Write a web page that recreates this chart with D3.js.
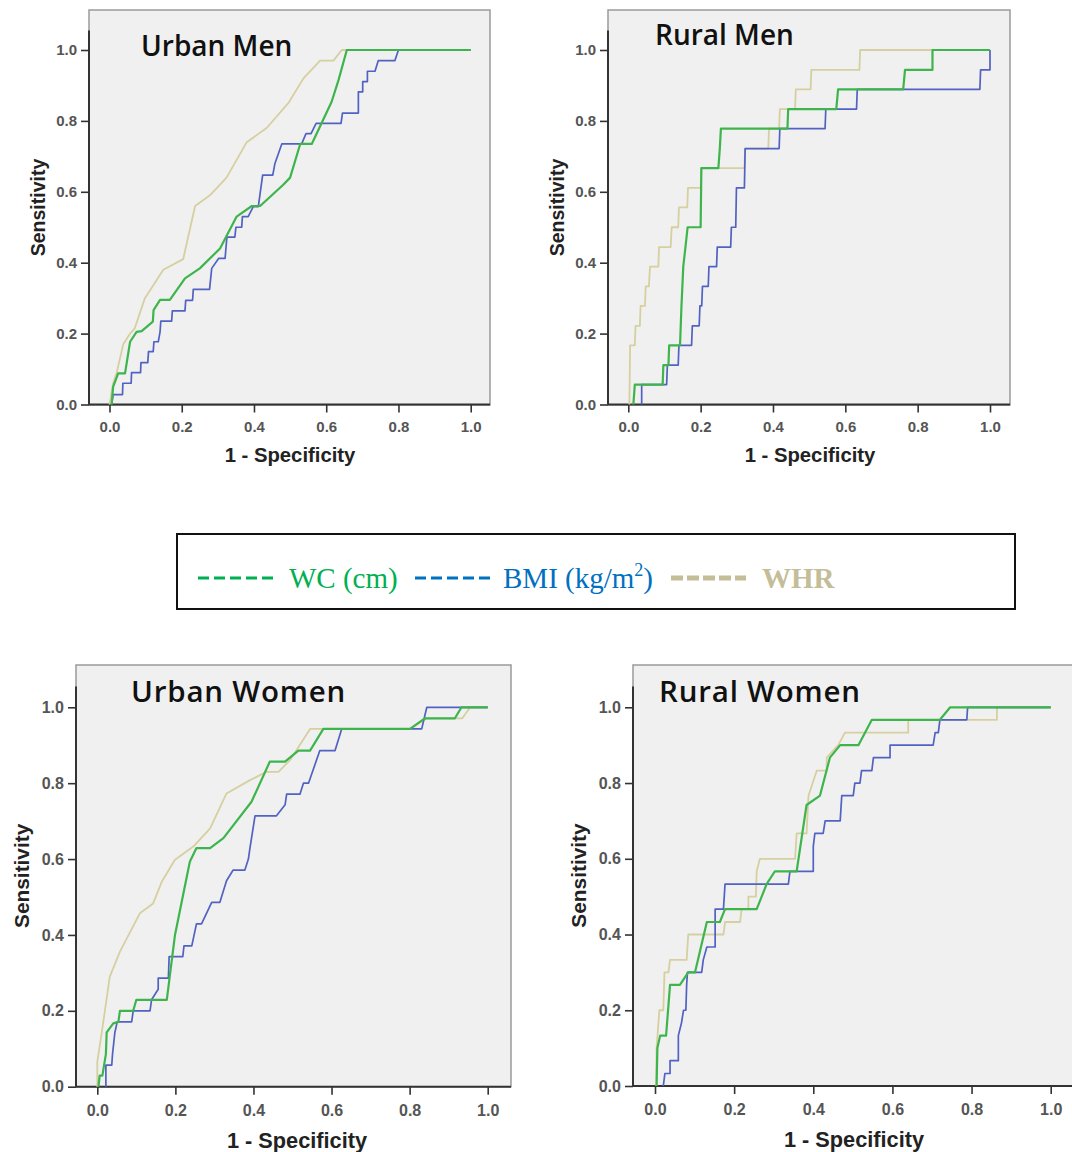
<!DOCTYPE html>
<html>
<head>
<meta charset="utf-8">
<script src="https://cdn.jsdelivr.net/npm/d3@7"></script>
<style>
  body { margin: 0; background: #fff; }
  svg { display: block; }
</style>
</head>
<body>
<div id="chart"></div>
<script>
// ROC curves, values: [1 - specificity, sensitivity]
const panelTitles = ["Urban Men", "Rural Men", "Urban Women", "Rural Women"];
const seriesNames = ["WC (cm)", "BMI (kg/m2)", "WHR"];
const tickValues = [0, 0.2, 0.4, 0.6, 0.8, 1.0];

const urbanMenWC = [[0.006,0],[0.01,0.05],[0.024,0.088],[0.043,0.088],[0.057,0.177],[0.075,0.205],[0.089,0.207],[0.12,0.234],[0.122,0.266],[0.14,0.295],[0.167,0.295],[0.209,0.356],[0.25,0.384],[0.306,0.44],[0.352,0.53],[0.394,0.56],[0.417,0.56],[0.481,0.62],[0.5,0.64],[0.528,0.735],[0.56,0.735],[0.615,0.854],[0.634,0.915],[0.657,1],[1,1]];
const urbanMenBMI = [[0.006,0],[0.01,0.028],[0.036,0.028],[0.037,0.06],[0.06,0.06],[0.061,0.09],[0.086,0.09],[0.087,0.118],[0.106,0.118],[0.108,0.149],[0.121,0.149],[0.123,0.177],[0.135,0.177],[0.14,0.205],[0.142,0.235],[0.172,0.235],[0.174,0.264],[0.209,0.264],[0.211,0.294],[0.23,0.294],[0.232,0.325],[0.277,0.325],[0.283,0.384],[0.302,0.412],[0.32,0.412],[0.325,0.472],[0.347,0.472],[0.35,0.5],[0.366,0.5],[0.368,0.53],[0.384,0.53],[0.398,0.558],[0.412,0.558],[0.424,0.647],[0.452,0.647],[0.458,0.68],[0.477,0.735],[0.532,0.735],[0.544,0.764],[0.558,0.764],[0.572,0.793],[0.641,0.793],[0.645,0.822],[0.689,0.822],[0.689,0.882],[0.701,0.882],[0.701,0.911],[0.714,0.911],[0.714,0.94],[0.735,0.94],[0.744,0.97],[0.79,0.97],[0.8,1],[1,1]];
const urbanMenWHR = [[0,0],[0.01,0.06],[0.02,0.09],[0.038,0.17],[0.057,0.2],[0.07,0.215],[0.098,0.3],[0.149,0.38],[0.204,0.41],[0.237,0.56],[0.278,0.59],[0.324,0.64],[0.38,0.74],[0.435,0.78],[0.495,0.85],[0.537,0.92],[0.583,0.97],[0.62,0.97],[0.643,1],[1,1]];

const ruralMenWC = [[0.014,0],[0.018,0.056],[0.095,0.056],[0.097,0.111],[0.111,0.111],[0.113,0.167],[0.143,0.167],[0.147,0.278],[0.152,0.389],[0.158,0.444],[0.164,0.5],[0.2,0.5],[0.202,0.667],[0.249,0.667],[0.253,0.722],[0.256,0.778],[0.44,0.778],[0.442,0.833],[0.575,0.833],[0.58,0.889],[0.76,0.889],[0.765,0.944],[0.841,0.944],[0.841,1],[1,1]];
const ruralMenBMI = [[0.037,0],[0.037,0.056],[0.106,0.056],[0.108,0.111],[0.138,0.111],[0.14,0.167],[0.175,0.167],[0.177,0.222],[0.196,0.222],[0.198,0.278],[0.203,0.278],[0.205,0.333],[0.221,0.333],[0.223,0.389],[0.244,0.389],[0.246,0.444],[0.283,0.444],[0.285,0.5],[0.297,0.5],[0.299,0.611],[0.321,0.611],[0.323,0.722],[0.417,0.722],[0.419,0.778],[0.544,0.778],[0.546,0.833],[0.631,0.833],[0.633,0.889],[0.972,0.889],[0.974,0.944],[1,0.944],[1,1]];
const ruralMenWHR = [[0.003,0],[0.005,0.167],[0.018,0.167],[0.02,0.222],[0.032,0.222],[0.034,0.278],[0.046,0.278],[0.048,0.333],[0.057,0.333],[0.06,0.389],[0.083,0.389],[0.085,0.444],[0.117,0.444],[0.12,0.5],[0.138,0.5],[0.14,0.556],[0.163,0.556],[0.165,0.611],[0.2,0.611],[0.202,0.667],[0.321,0.667],[0.323,0.722],[0.387,0.722],[0.389,0.778],[0.417,0.778],[0.419,0.833],[0.461,0.833],[0.463,0.889],[0.504,0.889],[0.506,0.944],[0.639,0.944],[0.641,1],[1,1]];

const urbanWomenWC = [[0.003,0],[0.006,0.029],[0.013,0.029],[0.022,0.086],[0.024,0.143],[0.041,0.167],[0.054,0.171],[0.058,0.2],[0.092,0.2],[0.1,0.229],[0.178,0.229],[0.199,0.4],[0.237,0.593],[0.254,0.629],[0.289,0.629],[0.323,0.655],[0.395,0.751],[0.442,0.857],[0.481,0.857],[0.515,0.886],[0.545,0.886],[0.579,0.943],[0.801,0.943],[0.839,0.971],[0.916,0.971],[0.933,1],[1,1]];
const urbanWomenBMI = [[0.022,0],[0.022,0.057],[0.037,0.057],[0.039,0.086],[0.045,0.143],[0.051,0.171],[0.088,0.171],[0.092,0.2],[0.135,0.2],[0.139,0.229],[0.156,0.257],[0.156,0.286],[0.182,0.286],[0.184,0.343],[0.219,0.343],[0.222,0.371],[0.242,0.371],[0.254,0.429],[0.267,0.429],[0.293,0.486],[0.314,0.486],[0.331,0.543],[0.348,0.571],[0.378,0.571],[0.387,0.6],[0.391,0.629],[0.404,0.714],[0.459,0.714],[0.481,0.743],[0.485,0.771],[0.519,0.771],[0.528,0.8],[0.541,0.8],[0.57,0.886],[0.609,0.886],[0.626,0.943],[0.831,0.943],[0.844,1],[1,1]];
const urbanWomenWHR = [[0,0],[0,0.066],[0.011,0.14],[0.032,0.29],[0.058,0.356],[0.109,0.457],[0.143,0.483],[0.165,0.54],[0.199,0.598],[0.246,0.633],[0.289,0.681],[0.331,0.773],[0.391,0.808],[0.434,0.83],[0.464,0.83],[0.494,0.861],[0.545,0.943],[0.801,0.943],[0.844,0.971],[0.935,0.971],[0.955,1],[1,1]];

const ruralWomenWC = [[0.004,0],[0.006,0.1],[0.013,0.133],[0.028,0.133],[0.038,0.267],[0.063,0.267],[0.084,0.3],[0.101,0.3],[0.131,0.433],[0.164,0.433],[0.177,0.467],[0.257,0.467],[0.282,0.533],[0.303,0.567],[0.358,0.567],[0.383,0.742],[0.417,0.767],[0.442,0.867],[0.468,0.9],[0.514,0.9],[0.548,0.967],[0.72,0.967],[0.746,1],[1,1]];
const ruralWomenBMI = [[0.021,0],[0.025,0.033],[0.038,0.033],[0.038,0.067],[0.059,0.067],[0.059,0.133],[0.067,0.167],[0.072,0.2],[0.078,0.2],[0.08,0.267],[0.082,0.3],[0.118,0.3],[0.122,0.333],[0.131,0.367],[0.152,0.367],[0.152,0.467],[0.173,0.467],[0.177,0.533],[0.337,0.533],[0.341,0.567],[0.4,0.567],[0.4,0.633],[0.404,0.667],[0.425,0.667],[0.43,0.7],[0.468,0.7],[0.472,0.767],[0.501,0.767],[0.505,0.8],[0.518,0.8],[0.522,0.833],[0.548,0.833],[0.552,0.867],[0.594,0.867],[0.594,0.9],[0.703,0.9],[0.708,0.933],[0.716,0.933],[0.72,0.967],[0.788,0.967],[0.79,1],[1,1]];
const ruralWomenWHR = [[0.003,0],[0.004,0.1],[0.011,0.2],[0.021,0.2],[0.024,0.3],[0.034,0.3],[0.038,0.333],[0.08,0.333],[0.084,0.4],[0.173,0.4],[0.177,0.433],[0.215,0.433],[0.219,0.467],[0.236,0.467],[0.236,0.5],[0.255,0.5],[0.257,0.567],[0.265,0.6],[0.354,0.6],[0.358,0.667],[0.383,0.667],[0.388,0.767],[0.409,0.833],[0.434,0.833],[0.434,0.867],[0.463,0.9],[0.48,0.933],[0.64,0.933],[0.64,0.967],[0.864,0.967],[0.864,1],[1,1]];

const panelData = [
    [urbanMenWC, urbanMenBMI, urbanMenWHR],
    [ruralMenWC, ruralMenBMI, ruralMenWHR],
    [urbanWomenWC, urbanWomenBMI, urbanWomenWHR],
    [ruralWomenWC, ruralWomenBMI, ruralWomenWHR]
];

// layout of the four panels (frame box, pixel range of 0..1, title spot, x-title centre, font scale)
const layout = [
    {frame: [89, 10, 490, 405], xr: [109.5, 470.7], yr: [404.5, 50], tx: 141, ty: 56, tfs: 28, tls: 0, cx: 290, fs: 1},
    {frame: [608, 10, 1010, 405], xr: [628.3, 990], yr: [404.5, 50], tx: 655, ty: 45, tfs: 28, tls: 0, cx: 810, fs: 1},
    {frame: [76, 665, 511, 1086.7], xr: [97.3, 487.7], yr: [1086.7, 707.3], tx: 131, ty: 702, tfs: 29.5, tls: 0.8, cx: 297, fs: 1.07},
    {frame: [633, 665, 1085, 1086], xr: [655, 1050.7], yr: [1086, 707.3], tx: 659, ty: 702, tfs: 29.5, tls: 0.8, cx: 854, fs: 1.07}
];

const lineColors = ["#3db54c", "#5262c2", "#d6cf9f"];
const lineWidths = [2.2, 1.7, 1.8];
const legendColors = ["#00b050", "#0070c0", "#c4bd97"];

const svg = d3.select("#chart").append("svg")
    .attr("width", 1072)
    .attr("height", 1152);

layout.forEach((p, i) => {
    const [fl, ft, fr, fb] = p.frame;
    const x = d3.scaleLinear().domain([0, 1]).range(p.xr);
    const y = d3.scaleLinear().domain([0, 1]).range(p.yr);
    const g = svg.append("g").attr("class", "panel");

    g.append("rect")
        .attr("x", fl).attr("y", ft)
        .attr("width", fr - fl).attr("height", fb - ft)
        .attr("fill", "#f0f0f0")
        .attr("stroke", "#9a9a9a")
        .attr("stroke-width", 1.5);

    const xAxis = d3.axisBottom(x)
        .tickValues(tickValues)
        .tickFormat(d3.format(".1f"))
        .tickSize(8)
        .tickPadding(9 * p.fs)
        .tickSizeOuter(0);
    const yAxis = d3.axisLeft(y)
        .tickValues(tickValues)
        .tickFormat(d3.format(".1f"))
        .tickSize(8)
        .tickPadding(4)
        .tickSizeOuter(0);

    const gx = g.append("g").attr("transform", `translate(0,${p.yr[0]})`).call(xAxis);
    const gy = g.append("g").attr("transform", `translate(${fl},0)`).call(yAxis);
    gy.selectAll(".domain").remove();
    gx.selectAll(".domain").remove();
    [gx, gy].forEach(ax => {
        ax.selectAll(".tick line").attr("stroke", "#333").attr("stroke-width", 1.6);
        ax.selectAll(".tick text")
            .attr("fill", "#555")
            .style("font-family", "Arial, 'Liberation Sans', sans-serif")
            .style("font-weight", "bold")
            .style("font-size", (15 * p.fs) + "px");
    });

    // axis lines: x across the whole frame, y up to just above 1.0
    g.append("line")
        .attr("x1", fl).attr("x2", fr)
        .attr("y1", p.yr[0]).attr("y2", p.yr[0])
        .attr("stroke", "#333").attr("stroke-width", 2);
    g.append("line")
        .attr("x1", fl).attr("x2", fl)
        .attr("y1", y(1.055)).attr("y2", p.yr[0])
        .attr("stroke", "#333").attr("stroke-width", 2);

    // curves: WHR under, then BMI, then WC
    const line = d3.line().x(d => x(d[0])).y(d => y(d[1]));
    [2, 1, 0].forEach(s => {
        g.append("path")
            .datum(panelData[i][s])
            .attr("fill", "none")
            .attr("stroke", lineColors[s])
            .attr("stroke-width", lineWidths[s])
            .attr("stroke-linejoin", "round")
            .attr("d", line);
    });

    g.append("text")
        .attr("x", p.tx).attr("y", p.ty)
        .style("font-family", "'Open Sans', sans-serif")
        .style("font-weight", 600)
        .style("font-size", p.tfs + "px")
        .style("letter-spacing", p.tls + "px")
        .attr("fill", "#111")
        .text(panelTitles[i]);

    g.append("text")
        .attr("transform", `translate(${fl - 44 * p.fs},${(ft + fb) / 2}) rotate(-90)`)
        .attr("text-anchor", "middle")
        .style("font-family", "Arial, 'Liberation Sans', sans-serif")
        .style("font-weight", "bold")
        .style("font-size", (19.5 * p.fs) + "px")
        .attr("fill", "#222")
        .text("Sensitivity");

    g.append("text")
        .attr("x", p.cx)
        .attr("y", p.yr[0] + 57 * p.fs)
        .attr("text-anchor", "middle")
        .style("font-family", "Arial, 'Liberation Sans', sans-serif")
        .style("font-weight", "bold")
        .style("font-size", (20.3 * p.fs) + "px")
        .attr("fill", "#222")
        .text("1 - Specificity");
});

// legend box
const legend = svg.append("g").attr("class", "legend");
legend.append("rect")
    .attr("x", 177).attr("y", 534)
    .attr("width", 838).attr("height", 75)
    .attr("fill", "#fff")
    .attr("stroke", "#111")
    .attr("stroke-width", 2);

const legendDashX = [198, 415, 671];
const legendTextX = [289, 503, 762];
seriesNames.forEach((name, s) => {
    legend.append("line")
        .attr("x1", legendDashX[s]).attr("x2", legendDashX[s] + 75)
        .attr("y1", 578).attr("y2", 578)
        .attr("stroke", legendColors[s])
        .attr("stroke-width", s === 2 ? 5 : 3)
        .attr("stroke-dasharray", s === 2 ? "12,4" : "11,5");
    const t = legend.append("text")
        .attr("x", legendTextX[s]).attr("y", 588)
        .style("font-family", "'Liberation Serif', 'Times New Roman', serif")
        .style("font-size", "29px")
        .style("font-weight", s === 2 ? "bold" : "normal")
        .attr("fill", legendColors[s]);
    if (s === 1) {
        t.append("tspan").text("BMI (kg/m");
        t.append("tspan").attr("dy", -12).style("font-size", "18px").text("2");
        t.append("tspan").attr("dy", 12).text(")");
    } else {
        t.text(name);
    }
});
</script>
</body>
</html>
